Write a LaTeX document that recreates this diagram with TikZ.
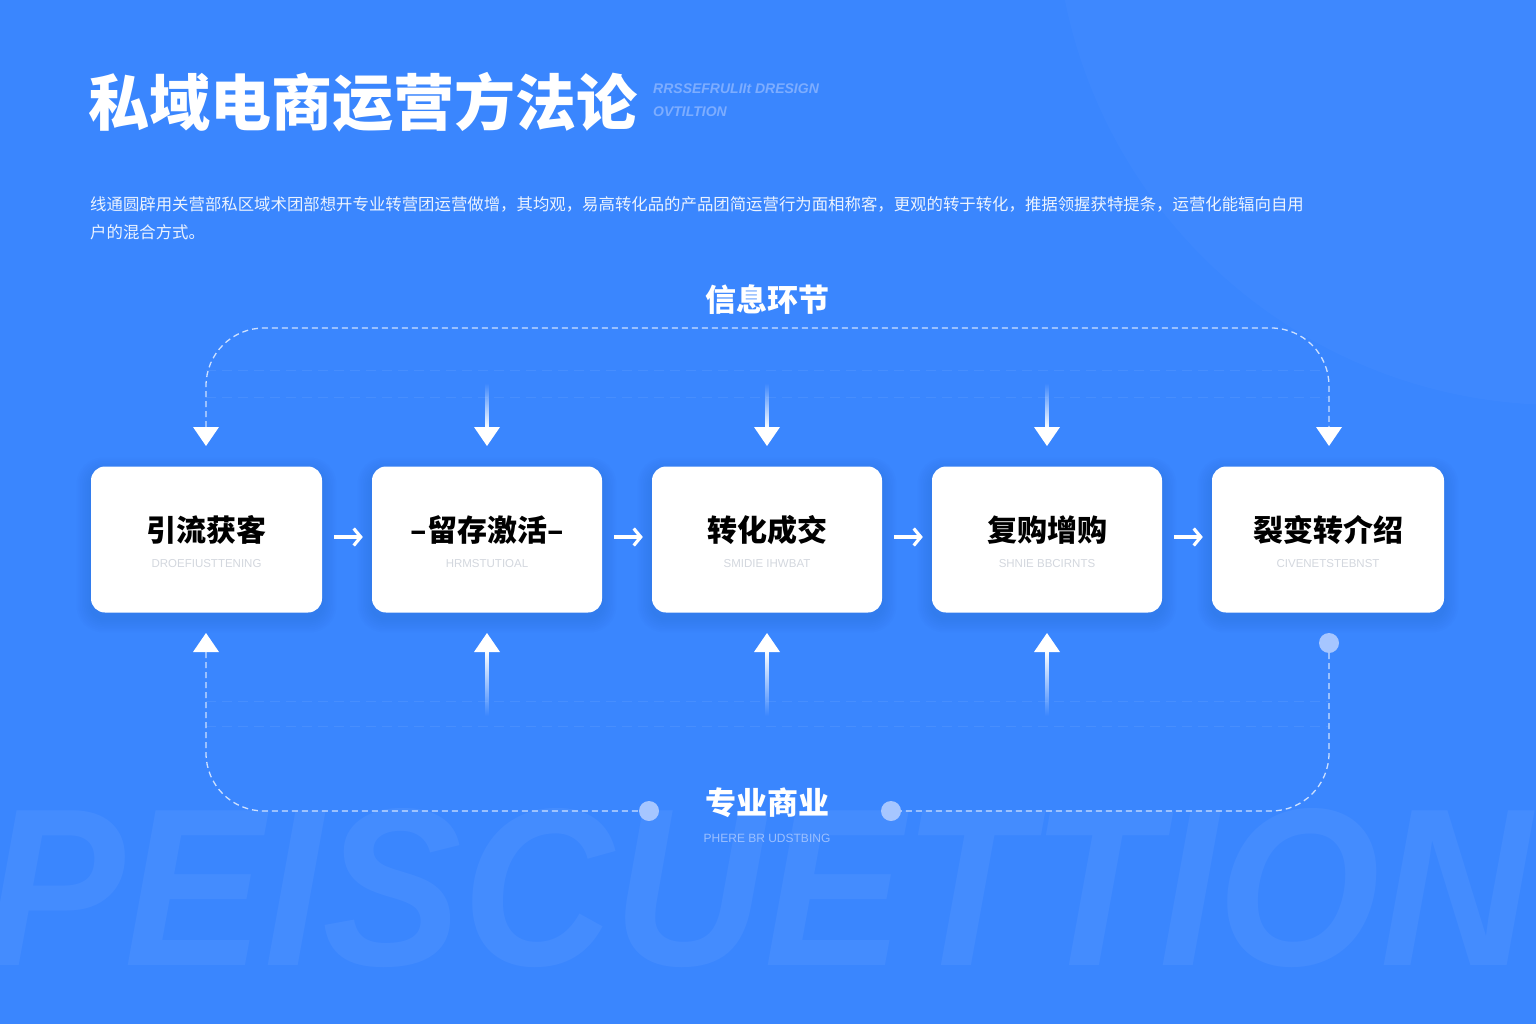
\documentclass[tikz,border=0pt]{standalone}
\usepackage{fontspec}
\setmainfont{Noto Sans CJK SC}
\newfontfamily\latinf{Liberation Sans}
\usetikzlibrary{fadings,calc,arrows.meta}
\definecolor{bgc}{HTML}{3A86FE}
\definecolor{shc}{HTML}{1A4FB8}
\definecolor{dotc}{HTML}{A6C6FF}
\definecolor{subg}{HTML}{D3D7DE}
\definecolor{hdrsub}{HTML}{7DADFF}
\definecolor{bsubc}{HTML}{9CC0FF}
\begin{document}
\begin{tikzpicture}[x=1pt,y=-1pt,
  box/.style={fill=white, rounded corners=14pt, minimum width=231pt, minimum height=146pt, inner sep=0pt},
  btitle/.style={font=\bfseries\fontsize{30}{30}\selectfont, text=black, inner sep=0pt},
  bsub/.style={font=\latinf\fontsize{11.5}{12}\selectfont, text=subg, inner sep=0pt},
  loopline/.style={draw=white, draw opacity=0.75, line width=1.3pt, dash pattern=on 6pt off 4pt},
  faint/.style={draw=white, draw opacity=0.07, line width=1pt, dash pattern=on 10pt off 6pt},
  harrow/.style={draw=white, line width=3.2pt, -{Straight Barb[length=7pt,width=17pt]}},
  dotn/.style={circle, fill=dotc, minimum size=20pt, inner sep=0pt},
  tridown/.pic={\fill[white] (0,0) -- (-13,-19) -- (13,-19) -- cycle;},
  triup/.pic={\fill[white] (0,0) -- (-13,19) -- (13,19) -- cycle;},
]
\useasboundingbox (0,0) rectangle (1536,1024);
% background
\fill[bgc] (0,0) rectangle (1536,1024);
\fill[white, opacity=0.025] (1560,-100) circle (505);
% watermark
\node[anchor=base west, inner sep=0pt, font=\latinf\bfseries\itshape\fontsize{225}{225}\selectfont, text=white, text opacity=0.05, xscale=0.93] (wm) at (-15,965) {PEISCUETTION};

% title
\node[anchor=west, inner sep=0pt, font=\bfseries\fontsize{61}{61}\selectfont, text=white] (title) at (88,102) {私域电商运营方法论};
\node[anchor=north west, inner sep=0pt, align=left, font=\latinf\bfseries\itshape\fontsize{14}{23}\selectfont, text=hdrsub] (hsub) at (653,84) {RRSSEFRULIIt DRESIGN\\OVTILTION};
% paragraph
\node[anchor=west, inner sep=0pt, font=\fontsize{16.4}{16.4}\selectfont, text=white, text opacity=0.9] (p1) at (90,204) {线通圆辟用关营部私区域术团部想开专业转营团运营做增，其均观，易高转化品的产品团简运营行为面相称客，更观的转于转化，推据领握获特提条，运营化能辐向自用};
\node[anchor=west, inner sep=0pt, font=\fontsize{16.4}{16.4}\selectfont, text=white, text opacity=0.9] (p2) at (90,232) {户的混合方式。};

% section labels
\node[inner sep=0pt, font=\bfseries\fontsize{31}{31}\selectfont, text=white] (info) at (767,300) {信息环节};
\node[inner sep=0pt, font=\bfseries\fontsize{31}{31}\selectfont, text=white] (biz) at (767,803) {专业商业};
\node[inner sep=0pt, font=\latinf\fontsize{12}{12}\selectfont, text=bsubc] (bizsub) at (767,838) {PHERE BR UDSTBING};

% faint guide lines
\draw[faint] (206,370) -- (1329,370);
\draw[faint] (206,397) -- (1329,397);
\draw[faint] (206,701) -- (1329,701);
\draw[faint] (206,726) -- (1329,726);

% box shadows (soft, manual)
\foreach \x/\w in {206.5/231,487/230,767/230,1047/230,1328/232}{
  \foreach \k in {1,...,8}{
    \fill[shc, opacity=0.018, rounded corners={14pt+\k*1.5pt}]
      ($(\x,545)+(-\w/2-\k*1.8,-73-\k*1.8)$) rectangle ($(\x,545)+(\w/2+\k*1.8,73+\k*1.8)$);
  }
}
% boxes
\node[box, minimum width=231pt] (b1) at (206.5,539.5) {};
\node[box, minimum width=230pt] (b2) at (487,539.5) {};
\node[box, minimum width=230pt] (b3) at (767,539.5) {};
\node[box, minimum width=230pt] (b4) at (1047,539.5) {};
\node[box, minimum width=232pt] (b5) at (1328,539.5) {};
\foreach \i/\t/\s in {1/引流获客/DROEFIUSTTENING, 2/–留存激活–/HRMSTUTIOAL, 3/转化成交/SMIDIE IHWBAT, 4/复购增购/SHNIE BBCIRNTS, 5/裂变转介绍/CIVENETSTEBNST}{
  \node[btitle] (t\i) at ($(b\i.center)+(0,-9.5)$) {\t};
  \node[bsub] (s\i) at ($(b\i.center)+(0,24.5)$) {\s};
}
% horizontal arrows
\foreach \a/\b in {1/2,2/3,3/4,4/5}{
  \draw[harrow] ($(b\a.east)+(12,-2.5)$) -- ($(b\b.west)+(-9,-2.5)$);
}

% top arrow tips
\coordinate (tt1) at (206,446);
\coordinate (tt2) at (487,446);
\coordinate (tt3) at (767,446);
\coordinate (tt4) at (1047,446);
\coordinate (tt5) at (1329,446);
% top loop
\draw[loopline, rounded corners=58pt] ($(tt1)+(0,-19)$) -- (206,328) -- (1329,328) -- ($(tt5)+(0,-19)$);
\pic at (tt1) {tridown};
\pic at (tt5) {tridown};
\foreach \i in {2,3,4}{
  \fill[white, path fading=north] ($(tt\i)+(-2,-63)$) rectangle ($(tt\i)+(2,-18)$);
  \pic at (tt\i) {tridown};
}

% bottom arrow tips
\coordinate (bt1) at (206,633);
\coordinate (bt2) at (487,633);
\coordinate (bt3) at (767,633);
\coordinate (bt4) at (1047,633);
\node[dotn] (d5) at (1329,643) {};
\node[dotn] (dl) at (649,811) {};
\node[dotn] (dr) at (891,811) {};
\draw[loopline, rounded corners=58pt] ($(bt1)+(0,19)$) -- (206,811) -- (dl.west);
\draw[loopline, rounded corners=58pt] (d5.south) -- (1329,811) -- (dr.east);
\pic at (bt1) {triup};
\foreach \i in {2,3,4}{
  \fill[white, path fading=south] ($(bt\i)+(-2,18)$) rectangle ($(bt\i)+(2,83)$);
  \pic at (bt\i) {triup};
}
\end{tikzpicture}
\end{document}
